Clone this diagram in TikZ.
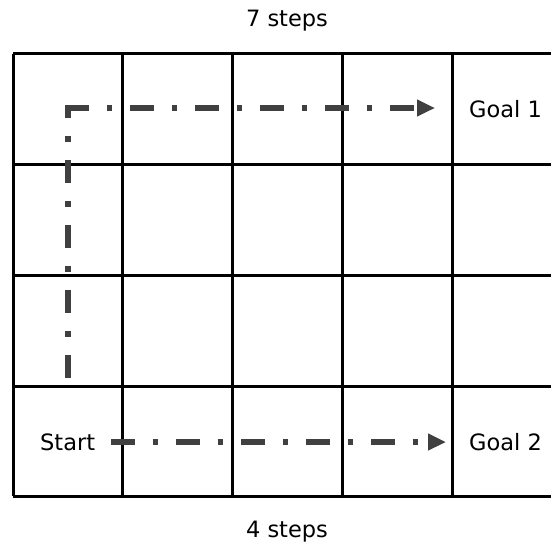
\documentclass[tikz,border=0pt]{standalone}
\usepackage{fontspec}
\setmainfont{DejaVu Sans}
\usetikzlibrary{arrows.meta}
\definecolor{pathgray}{HTML}{404040}
\begin{document}
\begin{tikzpicture}[x=1pt,y=-1pt,
  gridline/.style={line width=3pt,black},
  lbl/.style={font=\fontsize{22.5}{27}\selectfont,inner sep=0pt},
  route/.style={line width=5.5pt,pathgray,line cap=butt,
    dash pattern=on 23.5pt off 18pt on 5.5pt off 18pt},
  tipped/.style={-{Triangle[length=18pt,width=16pt]}}]
\clip (0,0) rectangle (551,543);
\fill[white] (0,0) rectangle (551,543);
% grid
\foreach \y in {54,164,275,386,496} \draw[gridline] (13,\y) -- (565,\y);
\foreach \x in {13,122.5,232.5,342,452,562} \draw[gridline] (\x,54) -- (\x,496);
% labels
\node[lbl,anchor=base] (top) at (287,27) {7 steps};
\node[lbl,anchor=base] (bottom) at (287,537) {4 steps};
\node[lbl,anchor=base west] (goal1) at (469,117) {Goal 1};
\node[lbl,anchor=base west] (goal2) at (469,450) {Goal 2};
\node[lbl,anchor=base west] (start) at (40,450) {Start};
% routes
\coordinate (vbot) at (68,378);
\coordinate (corner) at (68,108);
\coordinate (tip1) at (435,108);
\coordinate (s0) at (111,442);
\coordinate (tip2) at (446,442);
\draw[route] (vbot) -- (corner);
\draw[route,tipped] ([xshift=-2.75pt]corner) -- (tip1);
\draw[route,tipped] (s0) -- (tip2);
\end{tikzpicture}
\end{document}
